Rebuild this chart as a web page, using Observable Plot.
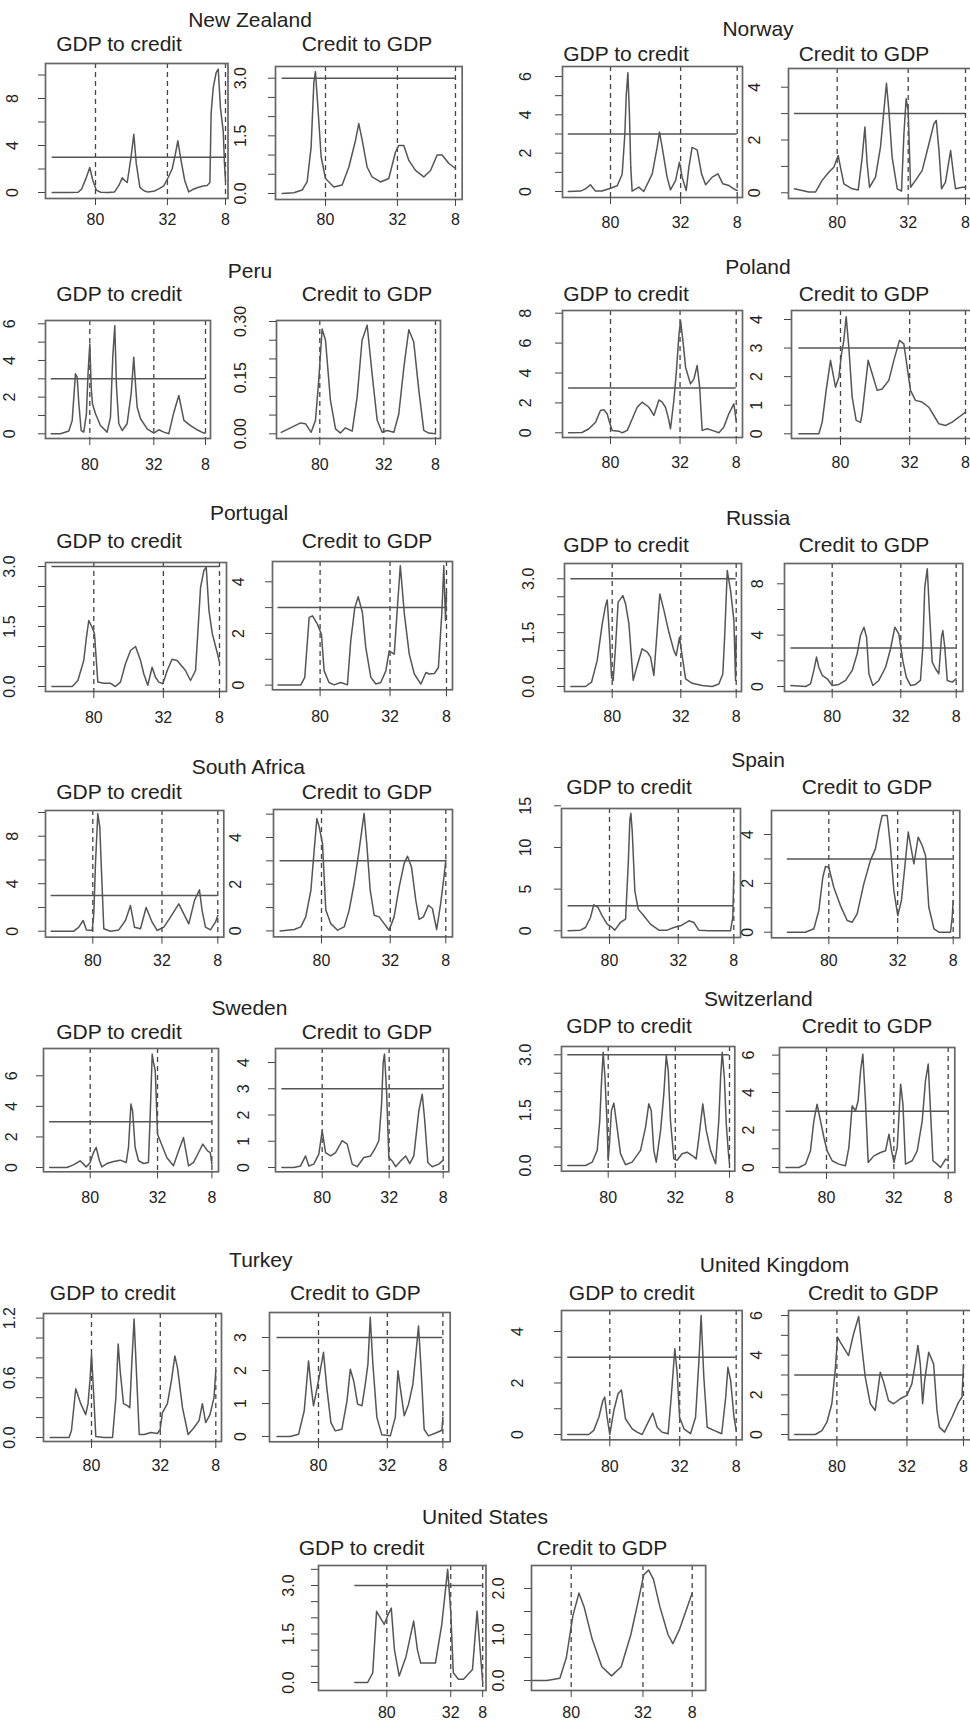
<!DOCTYPE html>
<html><head><meta charset="utf-8">
<script src="https://cdn.jsdelivr.net/npm/d3@7"></script>
<script src="https://cdn.jsdelivr.net/npm/@observablehq/plot@0.6"></script>
<style>
body{margin:0;background:#fff;}
#page{position:relative;width:970px;height:1729px;overflow:hidden;background:#fff;font-family:"Liberation Sans",Arial,sans-serif;color:#222;}
.t{position:absolute;transform:translate(-50%,-50%);font-size:21px;line-height:1;white-space:nowrap;}
.p{position:absolute;}
.p svg{max-width:none !important;}
</style></head><body><div id="page"></div>
<script>
// x axis: position along the spectrum (0 = first point, 100 = last point), labelled by cycle length
const xTickPos = [25, 66.5, 100];
const xTickPosUS = [[25, 75, 100], [25, 69.5, 100]];
const xTickText = ["80", "32", "8"];
const threshold = 3;
const countries = ["New Zealand","Norway","Peru","Poland","Portugal","Russia","South Africa","Spain","Sweden","Switzerland","Turkey","United Kingdom","United States"];
const panelTitles = ["GDP to credit","Credit to GDP"];

// series values [x, value]
const nzG = [[0,0],[5,0],[10,0],[15,0.02],[17,0.3],[19.5,1.2],[21.7,2.13],[23.5,1.0],[25.5,0.2],[28,0.02],[32,0],[36,0.05],[38.5,0.6],[40.4,1.25],[42,1.0],[43.3,0.85],[45.5,3.0],[47.1,4.96],[48.5,2.5],[50.6,0.43],[53,0.15],[54.8,0.05],[58.7,0.1],[62,0.35],[64.4,0.57],[67,1.3],[69.2,2.0],[71,3.2],[72.5,4.4],[74.5,2.6],[76.5,1.0],[78.8,0.05],[81,0.25],[83.7,0.4],[87,0.55],[89.4,0.6],[91,0.85],[91.7,6.7],[92.9,8.9],[94.6,10.2],[95.8,10.5],[97.1,7.2],[98.7,5.2],[99.4,2.5],[100,1.0]];
const nzC = [[0,0],[6.7,0.02],[11.5,0.09],[14.4,0.3],[16.7,1.2],[18.3,2.9],[19.2,3.17],[20.6,2.25],[22.5,0.95],[25,0.39],[29.8,0.17],[34.6,0.22],[38.5,0.69],[42.3,1.38],[44.2,1.82],[46.2,1.38],[49,0.69],[51.9,0.43],[56.7,0.3],[61.5,0.39],[65.4,1.08],[67.3,1.25],[70.2,1.25],[73.1,0.86],[76.9,0.6],[81.7,0.43],[85.6,0.6],[89.4,1.0],[92.3,1.0],[96.2,0.78],[100,0.65]];
const noG = [[0,0],[7.2,0.02],[10.2,0.14],[13.1,0.35],[16.1,0.02],[20,0.03],[25,0.17],[29,0.3],[31.9,0.9],[33.5,3.0],[34.3,5.0],[35.3,6.2],[36.2,4.05],[37,1.27],[37.8,0.02],[41.8,0.23],[44.7,0],[49.7,0.92],[52.6,2.3],[54,3.1],[55.6,2.3],[58.5,0.75],[60.5,0.09],[63.5,0.57],[65.8,1.53],[67.4,0.75],[69.8,0.05],[71.4,1.27],[73.3,2.3],[76.3,2.17],[78.9,0.92],[81.3,0.35],[85.2,0.75],[88.6,0.92],[91.5,0.4],[95.1,0.31],[98,0.14],[100,0.05]];
const noC = [[0,0.15],[4.5,0.09],[8.4,0.03],[12.3,0.03],[16.2,0.47],[20.1,0.78],[23,0.97],[25.6,1.41],[26.9,0.97],[28.9,0.34],[33.8,0.15],[37.3,0.11],[39.6,1.35],[41.2,2.49],[42.5,1.1],[43.9,0.21],[47.4,0.59],[50.3,1.73],[52.3,3.12],[53.8,4.15],[55.2,3.12],[57.1,1.35],[60.1,0.15],[62.6,0.06],[64,2.23],[65.3,3.56],[66.5,3.1],[67.9,0.21],[70.8,0.47],[74.7,0.85],[78.6,1.85],[81.5,2.61],[82.9,2.74],[84.5,1.6],[86,0.15],[88.3,0.4],[91.3,1.6],[93.2,0.59],[94.2,0.15],[98.1,0.21],[100,0.21]];
const peG = [[0,0],[6,0],[11.4,0.15],[13.6,0.73],[15.7,3.27],[16.8,3.1],[17.9,1.64],[19.4,0.18],[21.1,0.09],[22.8,1.09],[23.9,3.36],[25,4.9],[25.9,2.55],[26.7,1.64],[28.7,1.09],[31.9,0.45],[36.2,0.09],[38.4,0.9],[39.9,4.2],[41.2,5.9],[42.3,2.55],[43.8,0.55],[46,0.18],[49.2,0.55],[51.8,2.18],[53.5,4.18],[54.6,2.73],[55.7,1.45],[57.9,0.82],[62.2,0.27],[66.5,0.04],[69.7,0.22],[73,0.09],[76.2,0],[79.5,1.18],[82.7,2.09],[86,0.73],[90.3,0.45],[94.6,0.22],[98.9,0.04],[100,0.04]];
const peC = [[0,0.004],[6,0.016],[12.5,0.029],[15.7,0.027],[19.4,0.004],[22.2,0.036],[24.3,0.142],[26.5,0.28],[28.7,0.25],[31.9,0.089],[35.2,0.013],[38.4,0.002],[41.6,0.016],[46,0.007],[49.2,0.098],[52.4,0.25],[55.7,0.29],[58.9,0.16],[62.2,0.036],[65.4,0.004],[68.6,0.009],[73,0.004],[76.2,0.053],[79.5,0.178],[82.7,0.278],[85.9,0.245],[89.2,0.116],[92.4,0.009],[95.6,0.002],[100,0]];
const plG = [[0,0],[8,0.02],[12.1,0.27],[16.1,0.71],[19,1.49],[21,1.54],[23,1.27],[24.4,0.71],[26,0.16],[30,0.11],[32,0],[35,0.16],[38,0.94],[40.9,1.71],[43.9,2.05],[47.9,1.71],[50.9,1.16],[53.9,2.2],[55.8,2.05],[57.8,1.71],[59.4,1.05],[60.8,0.27],[62.8,2.16],[64.2,3.94],[65.8,6.5],[66.8,7.5],[68.2,6.16],[69.8,4.39],[72.7,3.27],[74.8,3.61],[76.7,4.5],[78.2,3.05],[79.7,0.16],[82.7,0.27],[85.7,0.16],[89.7,0],[92.6,0.38],[95.6,1.27],[98.6,1.94],[100,0.82]];
const plC = [[0,0],[6,0],[12,0],[14,0.4],[16.4,1.52],[19,2.57],[22,1.63],[24,1.98],[25.6,2.8],[27,3.27],[28.4,4.1],[30,3.03],[32,1.28],[34.4,0.47],[37,0.4],[38,0.7],[41.6,2.57],[44,2.1],[47,1.52],[50,1.57],[54,1.87],[57,2.57],[60.4,3.27],[63,3.15],[65,2.33],[67,1.52],[70,1.17],[74,1.11],[78,0.93],[81,0.64],[84,0.35],[88,0.29],[92,0.41],[96,0.58],[100,0.76]];
const ptG = [[0,0],[12.1,0],[15.5,0.15],[19,0.65],[20.6,1.23],[22,1.65],[24,1.48],[25.4,1.32],[27.4,0.11],[31,0.08],[35,0.08],[37.9,0],[40.9,0.11],[43.9,0.57],[46.9,0.9],[49.9,1.0],[52.9,0.65],[54.8,0.32],[57.2,0.03],[59.8,0.48],[61.8,0.23],[63.8,0.11],[66.2,0.07],[68.8,0.4],[71.7,0.68],[74.7,0.65],[79.7,0.4],[82.7,0.15],[85.7,0.4],[88.7,2.48],[90.7,2.9],[92.1,2.98],[93.7,1.9],[95.7,1.32],[98.3,0.9],[100,0.61]];
const ptC = [[0,0],[13.5,0],[15.9,0.3],[18.5,2.62],[20.5,2.68],[23.4,2.36],[25.8,1.97],[27.4,0.55],[30.3,0.1],[33.3,0.01],[37.3,0.1],[41.2,0.01],[43.2,1.72],[45.6,3.0],[47.6,3.42],[50.1,2.81],[52.1,1.46],[55.1,0.3],[58.1,0.04],[61,0.1],[64,0.55],[66,1.33],[69,1.2],[71,3.13],[72.6,4.62],[75,2.75],[77.9,1.2],[80.9,0.43],[84.8,0.04],[87.8,0.49],[89.8,0.43],[92.8,0.45],[95.2,0.68],[97.2,2.75],[98.4,4.62],[99.4,2.5],[100,3.6]];
const ruG = [[0,0],[8.9,0],[12.5,0.12],[15.9,0.72],[19,1.75],[21,2.26],[22,2.41],[23.4,1.37],[24.6,0.26],[25.6,0.17],[27,1.1],[28.6,2.35],[31.5,2.53],[33.1,2.3],[35.1,1.75],[37.7,0.17],[40.1,0.58],[43.1,1.05],[46.2,0.96],[48.2,0.82],[50.2,0.31],[52.2,1.56],[53.8,2.58],[56.3,2.12],[59.3,1.51],[62.3,1.0],[63.7,0.86],[65.7,1.37],[67.3,0.86],[69.4,0.21],[73.4,0.09],[79.4,0.03],[85.5,0],[89.5,0.07],[91.9,0.35],[93.1,1.47],[94.6,3.23],[96.6,2.67],[98.6,1.84],[99.6,0.17],[100,1.37]];
const ruC = [[0,0.08],[8.9,0],[11.9,0.2],[13.9,1.25],[15.5,2.29],[16.9,1.5],[19,0.86],[22,0.6],[25,0.08],[29,0.16],[33.1,0.47],[37.1,1.25],[40.1,2.55],[42.1,3.97],[44.2,4.62],[45.8,3.84],[47.2,0.99],[49.6,0.08],[53.2,0.47],[57.3,1.5],[60.3,2.94],[62.9,4.62],[65.3,4.1],[67.7,2.03],[69.8,0.73],[72.4,0.08],[75.4,0.16],[78.4,0.47],[79.8,3.06],[81,7.74],[82.5,9.17],[83.9,5.66],[85.5,1.9],[87.5,1.38],[89.5,0.99],[91.1,3.84],[91.9,4.36],[93.1,3.06],[94.6,0.47],[97.6,0.34],[100,0.6]];
const saG = [[0,0],[13.6,0],[16.6,0.34],[19.2,0.9],[21.2,0.11],[24.6,0.06],[25.6,1.46],[26.6,5.67],[28,9.9],[29.2,8.76],[30.2,5.1],[31.6,0.2],[35.6,0],[40.6,0.11],[44.6,0.9],[47.6,2.16],[50,0.34],[53.6,0.2],[57,2.0],[60.6,0.76],[63.6,0.06],[67.6,0.34],[71.6,1.18],[76.6,2.3],[79.6,1.46],[82.6,0.62],[86,2.58],[89,3.48],[90.6,1.74],[92.6,0.34],[95.6,0.11],[98.6,0.76],[100,1.32]];
const saC = [[0,0],[8.5,0.06],[12.5,0.17],[15.5,0.6],[18.6,1.74],[20.6,3.46],[22.2,4.81],[23.6,4.46],[25.6,3.74],[27.6,0.89],[30.6,0.31],[34.7,0.03],[38.7,0.17],[41.7,0.89],[44.7,2.03],[47.7,3.46],[50.7,5.03],[52.3,3.74],[54.4,1.74],[56.8,0.67],[59.8,0.6],[62.8,0.31],[65.8,0.03],[68.8,0.6],[71.9,1.89],[74.9,2.89],[76.9,3.2],[79.3,2.74],[81.9,1.31],[83.9,0.49],[86.5,0.6],[89.5,1.1],[91.9,0.96],[94.5,0.06],[96.9,1.17],[98.9,2.31],[100,3.03]];
const spG = [[0,0],[7.5,0.08],[10.5,0.4],[13.5,1.6],[15.5,3.12],[18.1,2.8],[20.6,1.8],[23.6,0.8],[26.6,0.4],[28.2,0.08],[31.6,1.0],[34.7,1.4],[36.3,8.0],[37.3,13.4],[37.9,14.1],[38.7,12.0],[40.3,4.8],[42.3,2.6],[45.7,1.8],[49.7,0.8],[54.8,0.08],[59.8,0.08],[63.8,0.4],[67.9,0.6],[72.9,1.2],[75.9,1.0],[78.9,0.08],[85,0],[91,0],[98,0],[99.4,1.6],[100,6.8]];
const spC = [[0,0],[10.9,0],[16,0.14],[19,0.89],[21.4,2.25],[23,2.69],[25,2.66],[28,1.84],[32,1.09],[36.1,0.48],[39.1,0.41],[42.1,0.75],[46.1,1.98],[50.1,2.94],[53.1,3.41],[55.6,4.3],[57.2,4.78],[60.2,4.78],[62.2,3.48],[64.2,1.71],[66.6,0.68],[68.8,1.3],[70.8,2.66],[72.9,4.1],[74.9,3.34],[76.3,2.8],[78.9,3.89],[81.3,3.55],[83.3,3.14],[85.3,1.02],[88.4,0.14],[91.4,0],[98.4,0],[99.4,0.61],[100,1.3]];
const swG = [[0,0],[10.6,0],[14.7,0.17],[18.8,0.44],[20.9,0.22],[22.5,0.04],[25,0.33],[27,0.98],[28.7,1.31],[30.7,0.44],[32.2,0.04],[35.3,0.26],[39.4,0.39],[43.5,0.48],[47.2,0.33],[48.6,1.31],[50.1,4.15],[51.1,3.71],[52.7,1.31],[54.8,0.44],[57.9,0.26],[60.9,0.33],[62,3.49],[63.2,7.42],[64,6.87],[65.1,6.33],[66.5,2.18],[68.1,1.75],[72.2,0.65],[76.3,0.11],[79.5,1.09],[82.5,1.96],[85.6,0.11],[88.7,0.33],[91.8,0.98],[94.4,1.53],[97.3,1.09],[99,0.98],[100,0.22]];
const swC = [[0,0],[7.4,0],[11.6,0.06],[14.7,0.44],[16.7,0.06],[19.8,0.13],[22.9,0.51],[25,1.4],[27.1,0.57],[30.2,0.44],[33.3,0.57],[37.4,1.02],[40.5,0.89],[43.6,0.13],[46.7,0.03],[50.8,0.38],[55,0.44],[58.1,0.76],[60.1,1.02],[61.8,2.41],[62.8,4.0],[63.6,4.32],[64.9,2.92],[66.3,0.38],[68.4,0.25],[70.5,0.03],[73.6,0.25],[76.7,0.44],[79.3,0.15],[81.8,0.44],[84.9,2.16],[87,2.79],[88.4,1.9],[90.5,0.19],[93.2,0.03],[97.3,0.13],[100,0.28]];
const szG = [[0,0],[11,0],[15.1,0.09],[18.2,0.41],[19.8,1.22],[20.9,2.3],[21.9,3.07],[23,2.39],[24.2,1.22],[25,0.14],[25.8,0.59],[27,1.49],[28.5,1.69],[30.2,1.13],[32.6,0.32],[35.7,0.02],[39.8,0.09],[45,0.41],[48.1,1.04],[50.1,1.67],[51.6,1.49],[53.2,0.41],[54.7,0.09],[57.4,0.95],[59.4,1.94],[60.9,2.98],[62.1,2.58],[63.5,1.22],[65.6,0.18],[67.6,0.14],[70.7,0.32],[73.8,0.36],[76.9,0.27],[79.4,0.18],[81.1,0.77],[83.5,1.67],[85.6,0.95],[88.3,0.41],[91.4,0.05],[93.4,1.22],[94.5,2.39],[95.5,3.07],[96.8,2.39],[98,1.13],[99.3,0.36],[100,0.05]];
const szC = [[0,0],[8,0],[12.1,0.18],[15.1,0.89],[17.2,2.49],[19.2,3.38],[21.3,2.49],[23.4,1.6],[25.4,0.89],[28.5,0.36],[32.6,0.18],[36.7,0.09],[38.8,1.07],[40.8,3.29],[42.9,3.03],[44.5,3.56],[46,5.16],[47.4,6.05],[49,3.56],[50.7,0.27],[54.2,0.62],[58.3,0.8],[61.4,0.89],[63.5,1.78],[65.1,0.89],[66.6,0.27],[68.6,1.07],[70.7,4.45],[72.1,3.38],[73.7,0.18],[77.8,0.36],[80.9,0.89],[84,2.49],[86,4.63],[87.7,5.52],[89.1,3.03],[90.6,0.36],[93.2,0.18],[95.3,0],[98.4,0.45],[100,0.36]];
const tkG = [[0,0],[11.5,0],[12.9,0.07],[15.5,0.49],[18.5,0.34],[21.5,0.23],[22.9,0.34],[24.2,0.6],[25,0.84],[26.2,0.47],[27.6,0.01],[32.6,0],[37.7,0],[39.7,0.4],[41.1,0.94],[42.3,0.67],[44.3,0.34],[46.7,0.32],[48.1,0.3],[49.3,0.74],[50.7,1.19],[51.9,0.74],[53.8,0.03],[56.8,0.03],[60.8,0.05],[64.8,0.04],[66.4,0.08],[67.8,0.25],[70.8,0.34],[73.2,0.57],[75.3,0.82],[76.9,0.7],[79.9,0.3],[83.3,0.03],[86.9,0.1],[89.9,0.17],[91.9,0.34],[93.9,0.15],[96.5,0.23],[98.9,0.4],[100,0.67]];
const tkC = [[0,0],[7.9,0],[13,0.07],[16.4,0.78],[19,2.29],[20.4,1.58],[22,0.93],[25,1.69],[28,2.55],[30,1.48],[32.5,0.42],[35.1,0.17],[39.1,0.22],[42.2,1.08],[44.2,2.04],[46.2,1.69],[48.6,0.98],[51.2,0.93],[53.2,1.58],[54.8,2.19],[56.2,3.61],[57.8,2.19],[60.2,0.58],[63.2,0.05],[68.3,0.02],[71.3,0.58],[72.9,1.99],[74.3,1.48],[76.7,0.63],[79.3,0.98],[81.9,1.58],[83.9,2.6],[85.3,3.35],[86.7,2.19],[88.7,0.22],[91.3,0.02],[96.4,0.12],[99.4,0.19],[100,0.58]];
const ukG = [[0,0],[12.5,0],[15.5,0.16],[18.5,0.67],[20.9,1.32],[22,1.45],[23.4,0.67],[25,0],[27.4,0.93],[29.9,1.58],[31.9,1.73],[34.3,0.61],[38.3,0.22],[41.2,0.09],[44.2,0],[48.2,0.54],[50.5,0.83],[53.1,0.28],[56.1,0.09],[59.6,0.03],[61.6,1.58],[63.6,3.33],[65,2.36],[66.4,0.67],[69,0.22],[72.9,0.03],[75.9,0.67],[77.9,2.87],[79.2,4.62],[80.8,2.23],[82.8,0.28],[86.8,0.16],[91.4,0.03],[93.8,1.45],[95.1,2.61],[96.7,2.1],[98.7,0.67],[100,0.16]];
const ukC = [[0,0],[12.2,0],[16.1,0.2],[19.1,0.62],[22,1.55],[24,3.23],[25.4,4.91],[27,4.66],[31.9,3.98],[34.9,5.08],[37.9,5.95],[39.8,4.4],[41.8,2.89],[44.8,1.55],[47.7,1.21],[50.7,3.14],[52.7,2.64],[55.6,1.71],[58.6,1.55],[62.5,1.8],[66.5,1.97],[69.4,2.55],[71.4,3.56],[73,4.49],[74.4,3.56],[75.8,1.55],[77,2.72],[79.4,4.15],[82.3,3.56],[84.3,1.21],[85.7,0.37],[88.8,0.12],[93.2,0.87],[97.1,1.63],[99.1,1.88],[100,3.48]];
const usG = [[0,0],[10,0],[14,0.3],[17,2.2],[20,2.0],[23,1.8],[26,2.1],[28.5,2.3],[31,1.0],[34.7,0.2],[40,0.8],[46,1.9],[49,1.0],[51.5,0.6],[57,0.6],[63,0.6],[68,1.8],[72.6,3.5],[75,2.2],[77,0.3],[81,0.1],[85,0.1],[92,0.4],[95.6,2.2],[98,1.0],[100,0]];
const usC = [[0,0],[10,0],[18,0.05],[22,0.5],[26,1.4],[29.8,1.9],[33,1.6],[38,0.9],[44,0.3],[50,0.1],[56,0.3],[62,1.0],[67,1.8],[70,2.3],[73,2.4],[76,2.2],[80,1.6],[85,1.0],[88,0.8],[92,1.1],[96,1.5],[100,1.9]];
const series = [[nzG,nzC],[noG,noC],[peG,peC],[plG,plC],[ptG,ptC],[ruG,ruC],[saG,saC],[spG,spC],[swG,swC],[szG,szC],[tkG,tkC],[ukG,ukC],[usG,usC]];

// y tick values and their printed labels ("" = unlabelled tick)
const yTicks = [
  [[0,2,4,6,8,10],[0,0.5,1,1.5,2,2.5,3]],
  [[0,1,2,3,4,5,6],[0,1,2,3,4]],
  [[0,1,2,3,4,5,6],[0,0.05,0.1,0.15,0.2,0.25,0.3]],
  [[0,2,4,6,8],[0,1,2,3,4]],
  [[0,0.5,1,1.5,2,2.5,3],[0,1,2,3,4]],
  [[0,0.5,1,1.5,2,2.5,3],[0,2,4,6,8]],
  [[0,2,4,6,8,10],[0,1,2,3,4,5]],
  [[0,5,10,15],[0,1,2,3,4]],
  [[0,2,4,6],[0,1,2,3,4]],
  [[0,0.5,1,1.5,2,2.5,3],[0,1,2,3,4,5,6]],
  [[0,0.2,0.4,0.6,0.8,1,1.2],[0,1,2,3]],
  [[0,1,2,3,4],[0,1,2,3,4,5,6]],
  [[0,0.5,1,1.5,2,2.5,3,3.5],[0,0.5,1,1.5,2]]
];
const yTickText = [
  [["0","","4","","8",""],["0.0","","","1.5","","","3.0"]],
  [["0","","2","","4","","6"],["0","","2","","4"]],
  [["0","","2","","4","","6"],["0.00","","","0.15","","","0.30"]],
  [["0","2","4","6","8"],["0","1","2","3","4"]],
  [["0.0","","","1.5","","","3.0"],["0","","2","","4"]],
  [["0.0","","","1.5","","","3.0"],["0","","4","","8"]],
  [["0","","4","","8",""],["0","","2","","4",""]],
  [["0","5","10","15"],["0","","2","","4"]],
  [["0","2","4","6"],["0","1","2","3","4"]],
  [["0.0","","","1.5","","","3.0"],["0","","2","","4","","6"]],
  [["0.0","","","0.6","","","1.2"],["0","1","2","3"]],
  [["0","","2","","4"],["0","","2","","4","","6"]],
  [["0.0","","","1.5","","","3.0",""],["0.0","","1.0","","2.0"]]
];

// page layout (pixels): title centre, subtitle centres, panel frames, axis calibration, label offsets
const layout = [
  {t:[250,19], s:[[119,43],[367,43]], p:[{L:45,R:227.5,T:63,B:198,x80:95,x8:225,y0:192,yv:8,yp:98,yl:23,xl:20.5},{L:275,R:461.7,T:66,B:199,x80:325,x8:455,y0:193,yv:3,yp:77.7,yl:25,xl:20}]},
  {t:[758,28], s:[[626,53],[864,53]], p:[{L:562,R:742,T:66,B:197,x80:610,x8:736.7,y0:191,yv:6,yp:76,yl:27,xl:25},{L:788,R:972,T:68,B:198,x80:836.7,x8:965,y0:192.3,yv:4,yp:86.7,yl:24,xl:24}]},
  {t:[250,270], s:[[119,293],[367,293]], p:[{L:45,R:210,T:320,B:438,x80:89.3,x8:205,y0:433.3,yv:6,yp:323.3,yl:26,xl:26},{L:276,R:440,T:320,B:438,x80:319.3,x8:435,y0:433.3,yv:0.3,yp:321,yl:26,xl:26}]},
  {t:[758,266], s:[[626,293],[864,293]], p:[{L:562,R:742,T:310,B:437,x80:610,x8:735.7,y0:432.3,yv:8,yp:312.7,yl:27,xl:25},{L:791,R:975,T:310,B:438,x80:840,x8:965,y0:433.3,yv:4,yp:319,yl:25,xl:24}]},
  {t:[249,512], s:[[119,540],[367,540]], p:[{L:45,R:226,T:562,B:691,x80:93.3,x8:219,y0:686,yv:3,yp:566,yl:26,xl:25.5},{L:271.7,R:451.7,T:560.7,B:689,x80:319.3,x8:445.7,y0:684.3,yv:4,yp:581,yl:24,xl:27}]},
  {t:[758,517], s:[[626,544],[864,544]], p:[{L:564,R:741,T:563,B:691,x80:611.7,x8:735.7,y0:686,yv:3,yp:578.3,yl:26,xl:25},{L:784,R:962.3,T:563,B:691,x80:831.7,x8:955.7,y0:686,yv:8,yp:583.3,yl:17,xl:25}]},
  {t:[248.3,766], s:[[119,791],[367,791]], p:[{L:45,R:223.3,T:810,B:936.7,x80:92.3,x8:217.3,y0:930.7,yv:8,yp:835.7,yl:23,xl:23},{L:272.7,R:451.7,T:809.3,B:936.7,x80:320.7,x8:445,y0:930.7,yv:4,yp:837.3,yl:28,xl:23}]},
  {t:[758,759], s:[[629,786],[867,786]], p:[{L:561,R:740,T:807.7,B:936.7,x80:609,x8:733.3,y0:930,yv:15,yp:805,yl:26,xl:23},{L:771,R:959.3,T:810,B:937.3,x80:828.3,x8:952.7,y0:931.7,yv:4,yp:834,yl:14,xl:23}]},
  {t:[249.5,1006.7], s:[[119,1031],[367,1031]], p:[{L:43.3,R:218.3,T:1047.7,B:1171,x80:90,x8:211.7,y0:1166.7,yv:6,yp:1075,yl:22,xl:26},{L:275,R:448.3,T:1047.7,B:1171,x80:321.7,x8:442.7,y0:1166.7,yv:4,yp:1061.7,yl:22,xl:26}]},
  {t:[758.3,998.3], s:[[629,1025],[867,1025]], p:[{L:561,R:734.3,T:1046,B:1170.7,x80:607.7,x8:729,y0:1165,yv:3,yp:1054.3,yl:26,xl:26},{L:779,R:954.3,T:1046.7,B:1171.7,x80:826,x8:947.7,y0:1166.7,yv:6,yp:1054.3,yl:21,xl:25}]},
  {t:[260.8,1259.3], s:[[112.7,1291.7],[355.3,1291.7]], p:[{L:42.7,R:220.7,T:1312.7,B:1440.7,x80:90.7,x8:215,y0:1436.7,yv:1.2,yp:1317.3,yl:24,xl:24},{L:269.3,R:450,T:1311.7,B:1441,x80:318.3,x8:442.7,y0:1435.7,yv:3,yp:1336.7,yl:19,xl:24}]},
  {t:[774.5,1264], s:[[631.7,1291.7],[873.3,1291.7]], p:[{L:561,R:741.7,T:1310,B:1439.3,x80:609.3,x8:735.7,y0:1434,yv:4,yp:1331,yl:34,xl:27},{L:788.3,R:972,T:1310,B:1439.3,x80:836.7,x8:963.3,y0:1434,yv:6,yp:1315,yl:22,xl:27}]},
  {t:[485,1515.7], s:[[361.6,1546.5],[601.9,1546.5]], p:[{L:317.5,R:485,T:1565,B:1690,x80:385.8,x8:481.7,y0:1682,yv:3,yp:1585,yl:20,xl:22},{L:531.3,R:705.5,T:1565,B:1690,x80:571,x8:692,y0:1680,yv:2,yp:1588,yl:23,xl:22}]}
];

const page = document.getElementById("page");
function addText(txt, x, y) {
  const d = document.createElement("div");
  d.className = "t"; d.textContent = txt;
  d.style.left = x + "px"; d.style.top = y + "px";
  page.appendChild(d);
}
const fs = 16;
const mL = 56, mR = 8, mT = 6, mB = 40;
countries.forEach((name, ci) => {
  const lay = layout[ci];
  addText(name, lay.t[0], lay.t[1]);
  [0, 1].forEach(pi => {
    addText(panelTitles[pi], lay.s[pi][0], lay.s[pi][1]);
    const g = lay.p[pi];
    const xt = ci === countries.length - 1 ? xTickPosUS[pi] : xTickPos;
    const unit = (g.x8 - g.x80) / 75;
    const xd = [25 + (g.L - g.x80) / unit, 25 + (g.R - g.x80) / unit];
    const k = (g.y0 - g.yp) / g.yv;
    const yd = [(g.y0 - g.B) / k, (g.y0 - g.T) / k];
    const ticks = yTicks[ci][pi], texts = yTickText[ci][pi];
    const data = series[ci][pi];
    const W = g.R - g.L + mL + mR, H = g.B - g.T + mT + mB;
    const svg = Plot.plot({
      width: W, height: H,
      marginLeft: mL, marginRight: mR, marginTop: mT, marginBottom: mB,
      x: {domain: xd},
      y: {domain: yd},
      style: {background: "transparent", overflow: "visible", maxWidth: "none", fontFamily: "'Liberation Sans', Arial, sans-serif", fontSize: fs + "px", color: "#222"},
      marks: [
        Plot.ruleX(xt, {stroke: "#444", strokeWidth: 1.3, strokeDasharray: "5,4"}),
        Plot.ruleY(threshold <= yd[1] ? [threshold] : [], {x1: 0, x2: 100, stroke: "#555", strokeWidth: 1.5}),
        Plot.line(data, {x: d => d[0], y: d => d[1], stroke: "#555", strokeWidth: 1.5, strokeLinejoin: "round"}),
        Plot.frame({stroke: "#666", strokeWidth: 1.7}),
        Plot.axisX({ticks: xt, tickFormat: d => xTickText[xt.indexOf(d)], tickSize: 7, tickPadding: g.xl - 7 - 0.358 * fs, fontSize: fs, stroke: "#444"}),
        Plot.axisY({ticks: ticks, tickFormat: d => texts[ticks.indexOf(d)], tickSize: 7, tickPadding: g.yl - 2.5, tickRotate: -90, fontSize: fs, stroke: "#444"})
      ]
    });
    const wrap = document.createElement("div");
    wrap.className = "p";
    wrap.style.left = (g.L - mL) + "px";
    wrap.style.top = (g.T - mT) + "px";
    wrap.style.width = W + "px";
    wrap.style.height = H + "px";
    wrap.appendChild(svg);
    page.appendChild(wrap);
  });
});
</script>
</body></html>
